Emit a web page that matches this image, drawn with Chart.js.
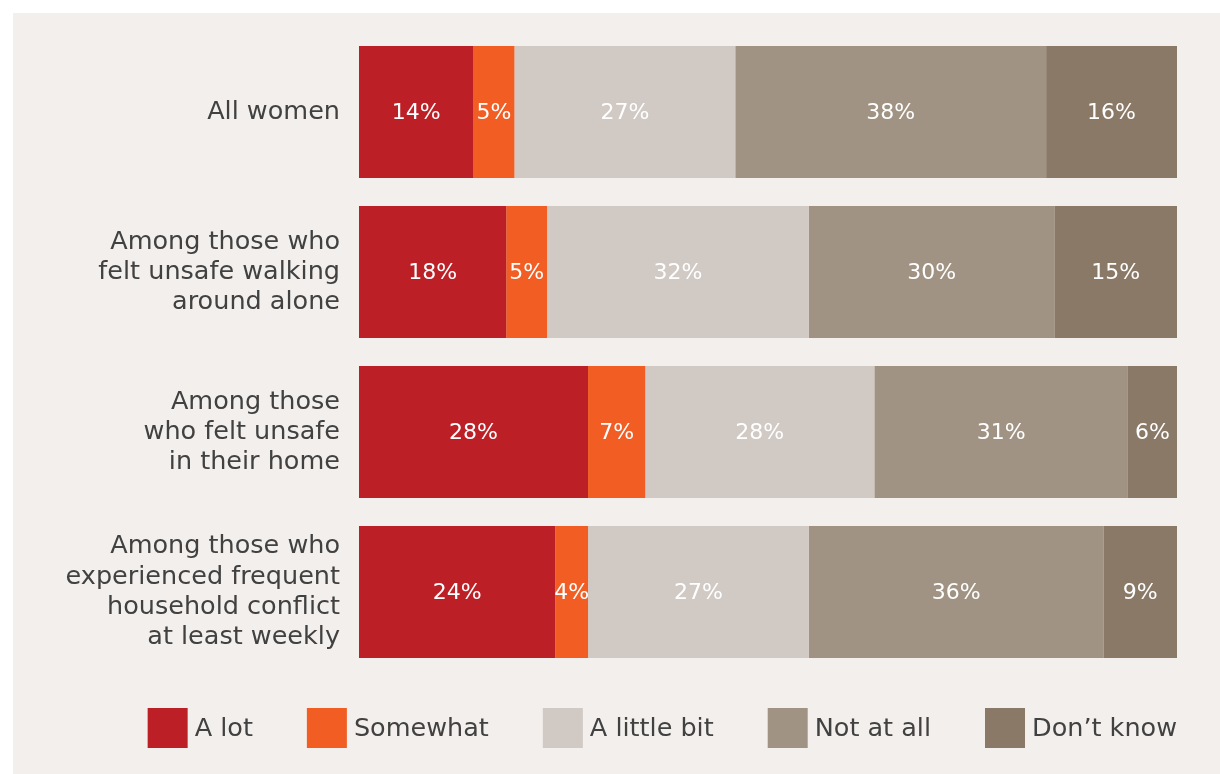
<!DOCTYPE html>
<html>
<head>
<meta charset="utf-8">
<script src="https://cdn.jsdelivr.net/npm/chart.js@4"></script>
<style>
  html, body { margin: 0; padding: 0; background: #ffffff; }
  #panel {
    position: absolute; left: 13px; top: 13px;
    width: 1207px; height: 761px;
    background: #f3efec;
  }
</style>
</head>
<body>
<div id="panel"><canvas id="chart" width="1207" height="761"></canvas></div>
<script>
// Groups shown on the y axis (one bar each)
const groups = [
  'All women',
  ['Among those who', 'felt unsafe walking', 'around alone'],
  ['Among those', 'who felt unsafe', 'in their home'],
  ['Among those who', 'experienced frequent', 'household conflict', 'at least weekly']
];

// Answer categories, in stacking order
const answers = ['A lot', 'Somewhat', 'A little bit', 'Not at all', 'Don\u2019t know'];
const answerColors = ['#bc2026', '#f15d22', '#d1c9c3', '#a09383', '#897966'];

// Percent of respondents per answer, one value per group
const aLot = [14, 18, 28, 24];
const somewhat = [5, 5, 7, 4];
const aLittleBit = [27, 32, 28, 27];
const notAtAll = [38, 30, 31, 36];
const dontKnow = [16, 15, 6, 9];

const seriesValues = [aLot, somewhat, aLittleBit, notAtAll, dontKnow];

const FONT = '"DejaVu Sans", sans-serif';
const TEXT = '#414141';

// white percentages centred in each segment
const valueLabels = {
  id: 'valueLabels',
  afterDatasetsDraw(chart) {
    const ctx = chart.ctx;
    ctx.save();
    ctx.font = '22px ' + FONT;
    ctx.fillStyle = '#ffffff';
    ctx.textAlign = 'center';
    ctx.textBaseline = 'middle';
    chart.data.datasets.forEach((ds, i) => {
      chart.getDatasetMeta(i).data.forEach((bar, j) => {
        const c = bar.getCenterPoint();
        ctx.fillText(ds.data[j] + '%', c.x, c.y + 1);
      });
    });
    ctx.restore();
  }
};

// legend row under the bars, right edge flush with the plot
const squareLegend = {
  id: 'squareLegend',
  afterDraw(chart) {
    const ctx = chart.ctx;
    const area = chart.chartArea;
    const box = 40, gap = 7, spacing = 54;
    ctx.save();
    ctx.font = '25.5px ' + FONT;
    const items = chart.data.datasets.map(ds => ({
      text: ds.label,
      color: ds.backgroundColor,
      w: box + gap + ctx.measureText(ds.label).width
    }));
    const total = items.reduce((s, it) => s + it.w, 0) + spacing * (items.length - 1);
    let x = area.right - total;
    const y = area.bottom + 36;
    ctx.textBaseline = 'middle';
    ctx.textAlign = 'left';
    items.forEach(it => {
      ctx.fillStyle = it.color;
      ctx.fillRect(x, y, box, box);
      ctx.fillStyle = TEXT;
      ctx.fillText(it.text, x + box + gap, y + box / 2 + 1);
      x += it.w + spacing;
    });
    ctx.restore();
  }
};

new Chart(document.getElementById('chart'), {
  type: 'bar',
  data: {
    labels: groups,
    datasets: answers.map((name, i) => ({
      label: name,
      data: seriesValues[i],
      backgroundColor: answerColors[i],
      borderWidth: 0,
      categoryPercentage: 1,
      barPercentage: 0.825
    }))
  },
  options: {
    indexAxis: 'y',
    responsive: false,
    animation: false,
    devicePixelRatio: 1,
    layout: { padding: { top: 19, right: 43, bottom: 102, left: 0 } },
    plugins: {
      legend: { display: false },
      tooltip: { enabled: false }
    },
    scales: {
      x: {
        stacked: true,
        min: 0,
        max: 100,
        display: false
      },
      y: {
        stacked: true,
        grid: { display: false, drawTicks: false },
        border: { display: false },
        ticks: {
          color: TEXT,
          padding: 19,
          font: { family: FONT, size: 25.5, lineHeight: 1.18 }
        },
        afterFit(scale) {
          scale.width = 346;
          // multi-line labels sit inside their bands, no extra margin needed
          scale.paddingTop = 0;
          scale.paddingBottom = 0;
        }
      }
    }
  },
  plugins: [valueLabels, squareLegend]
});
</script>
</body>
</html>
